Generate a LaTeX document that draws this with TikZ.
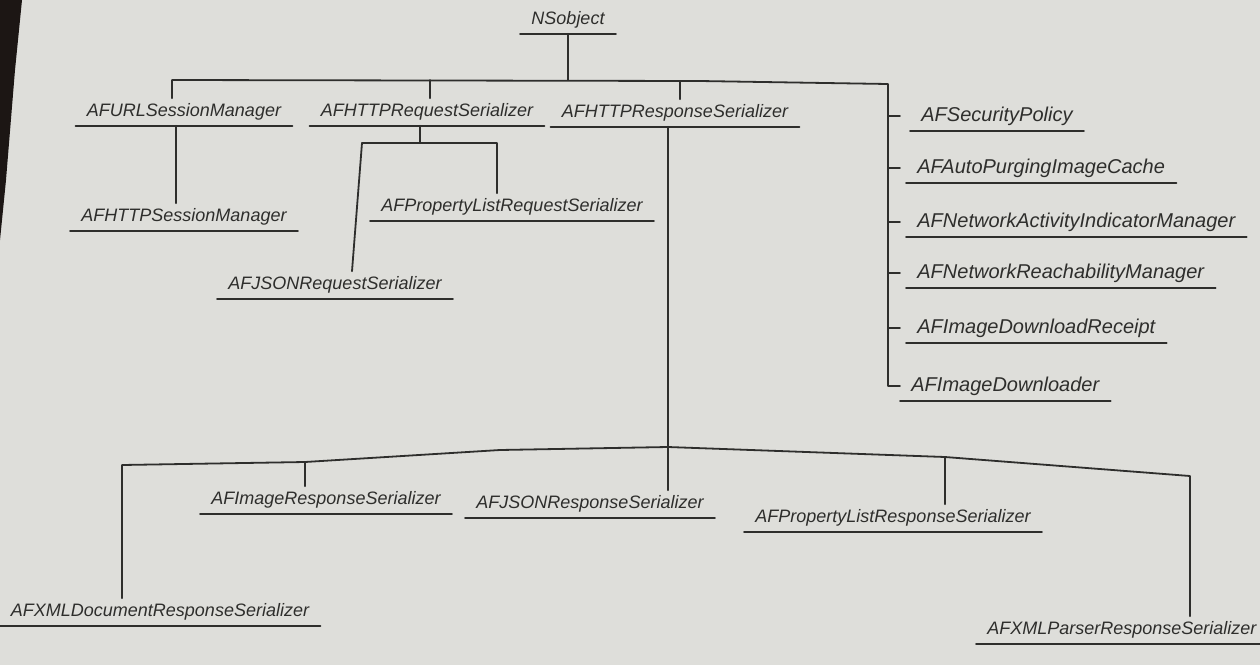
\documentclass[tikz,border=0pt]{standalone}
\usepackage{fontspec}
\setmainfont{Liberation Sans}
\begin{document}
\begin{tikzpicture}[x=0.5pt,y=-0.5pt,
  ink/.style={draw=inkc, line width=0.9pt, line cap=round, line join=round},
  cls/.style={font=\itshape\fontsize{9}{10}\selectfont, text=inkc, inner sep=1.5pt, inner ysep=2.5pt},
  big/.style={font=\itshape\fontsize{10}{11}\selectfont},
  uline/.style={ink, shorten <=-4pt, shorten >=-4pt}]
\definecolor{inkc}{HTML}{2E2E2C}
\definecolor{paper}{HTML}{DEDEDA}
\definecolor{edge}{HTML}{1C1614}
\useasboundingbox (0,0) rectangle (1260,665);
\clip (0,0) rectangle (1260,665);
\fill[paper] (0,0) rectangle (1260,665);
\fill[edge] (0,0) -- (22,0) -- (15,70) -- (6,180) -- (0,240) -- cycle;

% ---- nodes ----
\node[cls] (ns)      at (568,20)  {NSobject};
\node[cls] (urlsm)   at (184,112) {AFURLSessionManager};
\node[cls] (req)     at (427,112) {AFHTTPRequestSerializer};
\node[cls] (resp)    at (675,113) {AFHTTPResponseSerializer};
\node[cls] (httpsm)  at (184,217) {AFHTTPSessionManager};
\node[cls] (plreq)   at (512,207) {AFPropertyListRequestSerializer};
\node[cls] (jsonreq) at (335,285) {AFJSONRequestSerializer};

\node[cls, big, anchor=west] (sec)   at (918,116) {AFSecurityPolicy};
\node[cls, big, anchor=west] (cache) at (914,168) {AFAutoPurgingImageCache};
\node[cls, big, anchor=west] (act)   at (914,222) {AFNetworkActivityIndicatorManager};
\node[cls, big, anchor=west] (reach) at (914,273) {AFNetworkReachabilityManager};
\node[cls, big, anchor=west] (dlr)   at (914,328) {AFImageDownloadReceipt};
\node[cls, big, anchor=west] (dl)    at (908,386) {AFImageDownloader};

\node[cls] (imgresp)  at (326,500) {AFImageResponseSerializer};
\node[cls] (jsonresp) at (590,504) {AFJSONResponseSerializer};
\node[cls] (plresp)   at (893,518) {AFPropertyListResponseSerializer};
\node[cls] (xmldoc)   at (160,612) {AFXMLDocumentResponseSerializer};
\node[cls, anchor=west] (xmlpar) at (984,630) {AFXMLParserResponseSerializer};

% ---- underlines ----
\foreach \n in {ns,urlsm,req,resp,httpsm,plreq,jsonreq,sec,cache,act,reach,dlr,dl,imgresp,jsonresp,plresp,xmldoc,xmlpar}
  \draw[uline] (\n.south west) -- (\n.south east);

% ---- junction coordinates ----
\coordinate (top) at (570,80);
\coordinate (rc)  at (888,84);
\coordinate (rq)  at (420,143);
\coordinate (bot) at (668,447);

% ---- top level ----
\draw[ink] (ns.south) -- (ns.south |- top);
\draw[ink] (urlsm.north -| 172,0) -- (172,80) -- (700,81) -- (rc) -- (rc |- dl.west) -- ([xshift=-4pt]dl.west);
\draw[ink] (req.north -| 430,0) -- (430,80);
\draw[ink] (resp.north -| 680,0) -- (680,81);
\foreach \n in {sec,cache,act,reach,dlr}
  \draw[ink] (rc |- \n.west) -- ++(12,0);

% ---- session manager ----
\draw[ink] (urlsm.south -| 176,0) -- (httpsm.north -| 176,0);

% ---- request serializers ----
\draw[ink] (req.south -| rq) -- (rq);
\draw[ink] (362,143) -- (497,143) -- (plreq.north -| 497,0);
\draw[ink] (362,143) -- (jsonreq.north -| 352,0);

% ---- response serializers ----
\draw[ink] (resp.south -| bot) -- (bot);
\draw[ink] (xmldoc.north -| 122,0) -- (122,465) -- (305,462) -- (500,450) -- (bot) -- (945,457) -- (1190,476) -- (xmlpar.north -| 1190,0);
\draw[ink] (305,462) -- (imgresp.north -| 305,0);
\draw[ink] (bot) -- (jsonresp.north -| 668,0);
\draw[ink] (945,457) -- (plresp.north -| 945,0);
\end{tikzpicture}
\end{document}
